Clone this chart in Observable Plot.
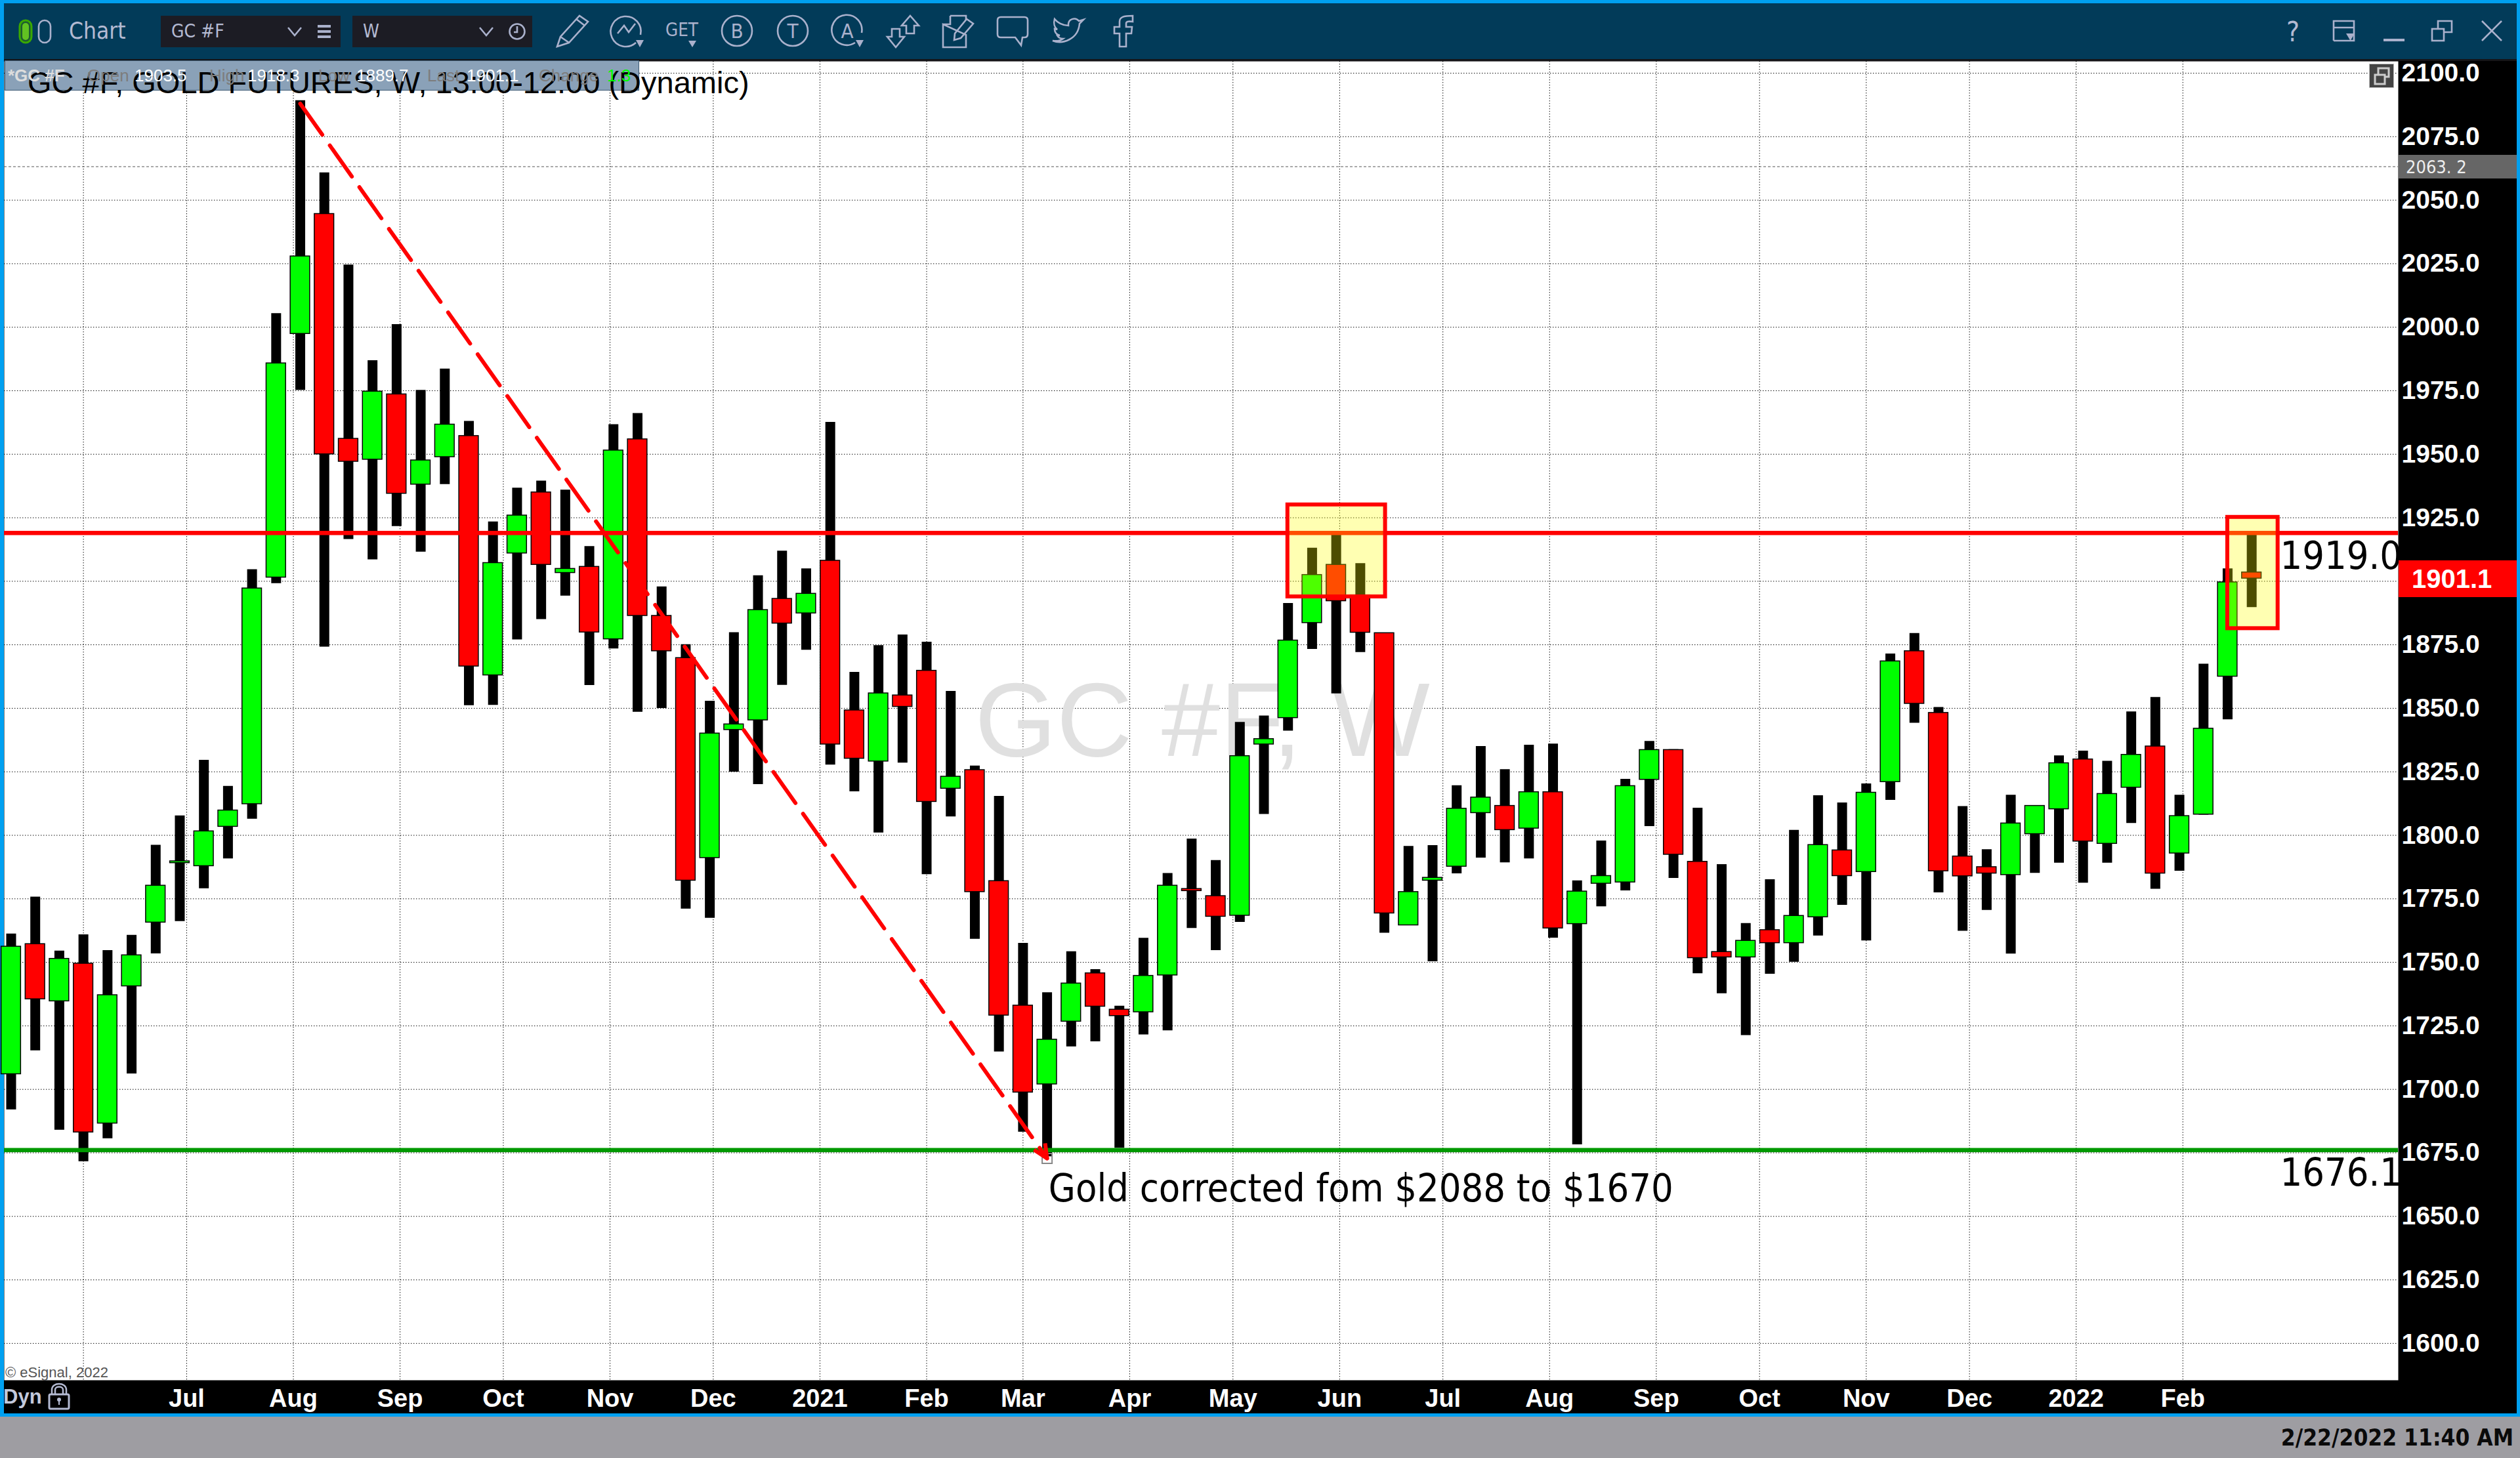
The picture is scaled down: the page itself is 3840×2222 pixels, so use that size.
<!DOCTYPE html>
<html><head><meta charset="utf-8">
<script src="https://cdn.jsdelivr.net/npm/d3@7"></script>
<script src="https://cdn.jsdelivr.net/npm/@observablehq/plot@0.6"></script>
<style>
html,body{margin:0;padding:0;background:#9e9ea2;}
#page{position:relative;width:3840px;height:2222px;overflow:hidden;background:#9e9da2;font-family:"Liberation Sans",Arial,sans-serif;}
.abs{position:absolute;}
#chart{position:absolute;left:0;top:0;z-index:2;}
#chart svg{display:block;background:transparent;}
.z3{z-index:3;} .z4{z-index:4;} .z5{z-index:5;}
.tb{color:#b4bad2;font-family:"DejaVu Sans Condensed","DejaVu Sans",sans-serif;white-space:nowrap;line-height:1;}
.lab{font-family:"DejaVu Sans Condensed","Liberation Sans",sans-serif;white-space:pre;line-height:1;}
svg.ic{position:absolute;overflow:visible;fill:none;stroke:#aab1cc;stroke-width:2.6;z-index:5;}
svg.ic text{stroke:none;fill:#aab1cc;font-family:"DejaVu Sans Condensed","DejaVu Sans",sans-serif;}
</style></head><body><div id="page">
<div class="abs" style="left:0;top:0;width:3840px;height:2159px;background:#00a0f0"></div>
<div class="abs" style="left:6px;top:5px;width:3829px;height:85px;background:#023b59"></div>
<div class="abs" style="left:6px;top:90px;width:3829px;height:3px;background:#151518"></div>
<div class="abs" style="left:6px;top:93px;width:3829px;height:2061px;background:#000"></div>
<div id="chart"></div>

<!-- toolbar -->
<svg class="ic" style="left:28px;top:29px" width="54" height="38" viewBox="0 0 54 38">
<rect x="2" y="2" width="18" height="34" rx="9" stroke="#3aa800" stroke-width="3" fill="#1e5c30"/>
<rect x="6" y="6" width="10" height="26" rx="5" stroke="none" fill="#62c222"/>
<rect x="31" y="2" width="18" height="34" rx="9"/></svg>
<div class="abs tb z5" style="left:105px;top:30px;font-size:35px;">Chart</div>
<div class="abs z5" style="left:245px;top:24px;width:274px;height:48px;background:#1c1c24"></div>
<div class="abs z5" style="left:537px;top:24px;width:274px;height:48px;background:#1c1c24"></div>
<div class="abs tb z5" style="left:261px;top:34px;font-size:28px;">GC #F</div>
<div class="abs tb z5" style="left:553px;top:34px;font-size:28px;">W</div>
<svg class="ic" style="left:437px;top:40px" width="26" height="18"><path d="M2 2 L12 14 L22 2"/></svg>
<svg class="ic" style="left:483px;top:37px" width="24" height="24"><path d="M1 3H21M1 11H21M1 19H21" stroke-width="4"/></svg>
<svg class="ic" style="left:729px;top:40px" width="26" height="18"><path d="M2 2 L12 14 L22 2"/></svg>
<svg class="ic" style="left:775px;top:34px" width="28" height="28"><circle cx="13" cy="14" r="11.5"/><path d="M13 6V15H8"/></svg>
<svg class="ic" style="left:848px;top:23px" width="50" height="50" viewBox="0 0 50 50"><path d="M1 48 L6 33 L35 1 L48 10 L19 42 Z M6 33 L19 42 M30 6 L43 16"/></svg>
<svg class="ic" style="left:931px;top:23px" width="50" height="50" viewBox="0 0 50 50"><path d="M38 42 A23 23 0 1 1 45 30"/><path d="M10 28 L20 16 L27 26 L37 13"/><path d="M38 38 L50 38 L44 49 Z" fill="#aab1cc" stroke="none"/></svg>
<svg class="ic" style="left:1014px;top:27px" width="52" height="46" viewBox="0 0 52 46"><text x="25" y="28" font-size="29" text-anchor="middle" textLength="50" lengthAdjust="spacingAndGlyphs">GET</text><path d="M35 35 L47 35 L41 45 Z" fill="#aab1cc" stroke="none"/></svg>
<svg class="ic" style="left:1099px;top:23px" width="50" height="50" viewBox="0 0 50 50"><circle cx="24" cy="24" r="23"/><text x="24" y="35" font-size="31" text-anchor="middle">B</text></svg>
<svg class="ic" style="left:1184px;top:23px" width="50" height="50" viewBox="0 0 50 50"><circle cx="24" cy="24" r="23"/><text x="24" y="35" font-size="31" text-anchor="middle">T</text></svg>
<svg class="ic" style="left:1267px;top:23px" width="50" height="50" viewBox="0 0 50 50"><path d="M36 42 A23 23 0 1 1 46 27"/><text x="24" y="35" font-size="31" text-anchor="middle">A</text><path d="M37 38 L49 38 L43 49 Z" fill="#aab1cc" stroke="none"/></svg>
<svg class="ic" style="left:1351px;top:23px" width="50" height="50" viewBox="0 0 50 50"><path d="M36 1 L49 16 L42 16 L42 28 L30 28 L30 16 L23 16 Z"/><path d="M14 49 L1 33 L8 33 L8 21 L20 21 L20 33 L27 33 Z"/></svg>
<svg class="ic" style="left:1436px;top:23px" width="50" height="50" viewBox="0 0 50 50"><path d="M12 1 H36 V8 M36 30 V49 H1 V14 Z M12 1 V14 H1"/><path d="M18 38 L19 28 L37 6 L47 13 L28 35 Z"/></svg>
<svg class="ic" style="left:1519px;top:25px" width="48" height="45" viewBox="0 0 48 45"><path d="M6 1 H42 Q47 1 47 6 V27 Q47 32 42 32 H39 L37 44 L28 32 H6 Q1 32 1 27 V6 Q1 1 6 1 Z"/></svg>
<svg class="ic" style="left:1603px;top:26px" width="50" height="42" viewBox="0 0 50 42"><path d="M1 36 C16 42 40 34 42 10 L48 4 L41 6 C36 0 24 2 25 13 C16 13 8 8 4 3 C2 10 4 16 8 19 L4 18 C4 24 8 27 12 28 L8 28 C10 32 14 33 17 33 C13 36 8 37 1 36 Z"/></svg>
<svg class="ic" style="left:1697px;top:23px" width="30" height="50" viewBox="0 0 30 50"><path d="M9 48 V28 H1 V18 H9 V10 C9 3 15 1 29 1 V10 C21 9 19 10 19 13 V18 H28 L27 28 H19 V48 Z"/></svg>
<div class="abs tb z5" style="left:3484px;top:28px;font-size:42px;">?</div>
<svg class="ic" style="left:3555px;top:30px" width="36" height="36" viewBox="0 0 36 36"><path d="M1 32 V2 H32 V32 H1 M1 12 H32"/><path d="M20 21 H33 L26.5 32 Z" fill="#aab1cc" stroke="none"/></svg>
<svg class="ic" style="left:3631px;top:58px" width="34" height="8"><path d="M1 3 H33" stroke-width="4"/></svg>
<svg class="ic" style="left:3704px;top:30px" width="36" height="36" viewBox="0 0 36 36"><rect x="2" y="14" width="18" height="18"/><path d="M11 14 V2 H32 V19 H20"/></svg>
<svg class="ic" style="left:3780px;top:30px" width="36" height="36" viewBox="0 0 36 36"><path d="M2 2 L32 32 M32 2 L2 32"/></svg>

<!-- header panel -->
<div class="abs z3" style="left:8px;top:93px;width:965px;height:44px;background:#8aa1b8;outline:1px solid #3d5a74"></div>
<div class="abs z4" id="title" style="left:42px;top:102px;font-family:'Liberation Sans',sans-serif;font-size:47px;line-height:1;color:#000;white-space:nowrap;">GC #F, GOLD FUTURES, W, 13:00-12:00 (Dynamic)</div>
<div class="abs z5" style="left:0;top:93px;width:1000px;height:44px;font-size:26px;line-height:44px;white-space:nowrap;">
<span class="abs" style="left:12px;color:#ddd;font-weight:bold">*GC #F</span>
<span class="abs" style="left:133px;color:#7d7d7d">Open</span><span class="abs" style="left:205px;color:#fff">1903.5</span>
<span class="abs" style="left:319px;color:#7d7d7d">High</span><span class="abs" style="left:377px;color:#fff">1918.3</span>
<span class="abs" style="left:485px;color:#7d7d7d">Low</span><span class="abs" style="left:543px;color:#fff">1889.7</span>
<span class="abs" style="left:651px;color:#7d7d7d">Last</span><span class="abs" style="left:711px;color:#fff">1901.1</span>
<span class="abs" style="left:821px;color:#7d7d7d">Change</span><span class="abs" style="left:925px;color:#00ff00">1.3</span>
</div>
<svg class="abs z5" style="left:3610px;top:97px" width="38" height="37" viewBox="0 0 38 37"><rect x="0" y="0" width="38" height="37" fill="#444" stroke="#bbb" stroke-width="2"/><rect x="9" y="17" width="15" height="14" fill="none" stroke="#ccc" stroke-width="3"/><path d="M14 16 V7 H30 V20 H25" fill="none" stroke="#ccc" stroke-width="3"/></svg>

<!-- price tags -->
<div class="abs z3" style="left:3655px;top:236px;width:180px;height:36px;background:#666;"></div>
<div class="abs z4 lab" style="left:3666px;top:241px;font-size:27px;color:#eee;">2063. 2</div>
<div class="abs z3" style="left:3655px;top:854px;width:180px;height:56px;background:#f00;"></div>
<div class="abs z4" style="left:3675px;top:862px;font-size:40px;line-height:40px;color:#fff;font-weight:bold;">1901.1</div>

<!-- bottom bits -->
<div class="abs z5" style="left:8px;top:2081px;font-size:22px;line-height:1;color:#555;white-space:nowrap;">© eSignal, 2022</div>
<div class="abs z5" style="left:5px;top:2113px;font-size:31px;line-height:1;color:#c3c9dc;font-weight:bold;">Dyn</div>
<svg class="abs z5" style="left:72px;top:2107px" width="36" height="42" viewBox="0 0 36 42"><path d="M7 18 V11 C7 -1 29 -1 29 11 V18 M12 18 V11 C12 5 24 5 24 11 V18" fill="none" stroke="#b4bad2" stroke-width="2.5"/><rect x="3" y="18" width="30" height="22" rx="2" fill="none" stroke="#b4bad2" stroke-width="3"/><circle cx="18" cy="26" r="3" fill="#b4bad2"/><path d="M18 26 V34" stroke="#b4bad2" stroke-width="2"/></svg>
<div class="abs z5" style="right:10px;top:2174px;font-family:'DejaVu Sans Condensed','DejaVu Sans';font-weight:bold;font-size:35px;line-height:1;color:#0a0a0a;white-space:nowrap;">2/22/2022 11:40 AM</div>

<script>
// weekly bars (Monday of each week)
const weeks = ["2020-05-11","2020-05-18","2020-05-25","2020-06-01","2020-06-08","2020-06-15","2020-06-22","2020-06-29","2020-07-06","2020-07-13","2020-07-20","2020-07-27","2020-08-03","2020-08-10","2020-08-17","2020-08-24","2020-08-31","2020-09-07","2020-09-14","2020-09-21","2020-09-28","2020-10-05","2020-10-12","2020-10-19","2020-10-26","2020-11-02","2020-11-09","2020-11-16","2020-11-23","2020-11-30","2020-12-07","2020-12-14","2020-12-21","2020-12-28","2021-01-04","2021-01-11","2021-01-18","2021-01-25","2021-02-01","2021-02-08","2021-02-15","2021-02-22","2021-03-01","2021-03-08","2021-03-15","2021-03-22","2021-03-29","2021-04-05","2021-04-12","2021-04-19","2021-04-26","2021-05-03","2021-05-10","2021-05-17","2021-05-24","2021-05-31","2021-06-07","2021-06-14","2021-06-21","2021-06-28","2021-07-05","2021-07-12","2021-07-19","2021-07-26","2021-08-02","2021-08-09","2021-08-16","2021-08-23","2021-08-30","2021-09-06","2021-09-13","2021-09-20","2021-09-27","2021-10-04","2021-10-11","2021-10-18","2021-10-25","2021-11-01","2021-11-08","2021-11-15","2021-11-22","2021-11-29","2021-12-06","2021-12-13","2021-12-20","2021-12-27","2022-01-03","2022-01-10","2022-01-17","2022-01-24","2022-01-31","2022-02-07","2022-02-14","2022-02-21"];
const opens = [1706,1757.2,1734.7,1749.5,1686.6,1740.6,1765.7,1789.1,1787.9,1803.4,1812.3,1901.5,1997.4,2044.6,1956.1,1947.9,1973.6,1938.1,1948.9,1957.2,1863,1911,1935,1903.3,1905.7,1877.2,1955.9,1886.4,1869.8,1791.1,1841.5,1845.3,1893.1,1887.4,1908.1,1849.2,1829.1,1855.1,1864.8,1818.4,1825.7,1782,1733,1702,1726.7,1745.7,1731.4,1730.4,1744.9,1778.9,1776.1,1768.4,1835.8,1846.2,1883.6,1906.5,1894.5,1879.6,1764.6,1782.2,1787.7,1808.8,1811.6,1802.7,1817,1765.1,1781,1781.5,1821.9,1833.6,1789.6,1754.1,1752,1762.7,1757.6,1767.8,1794.1,1785.6,1821,1872.5,1848.2,1791.7,1787.5,1784.4,1800.5,1810.3,1829.9,1796.7,1818.8,1835,1792.9,1808.2,1862.5,1903.5];
const highs = [1761.2,1775.7,1754.5,1760.9,1754.7,1760.7,1796.1,1807.7,1829.6,1819.3,1904.6,2005.4,2089.2,2060.8,2024.5,1986.9,2001.1,1975.2,1983.6,1963,1923.4,1936.7,1939.5,1935.9,1913.7,1961.7,1966.1,1897.8,1875.1,1852.8,1879.8,1902.2,1911.9,1904.9,1962.6,1864.2,1874.7,1878.9,1876.1,1856.7,1827.3,1815.4,1757.5,1738.1,1754.2,1747.2,1732.8,1759.5,1785,1798.6,1790.1,1844.5,1847,1891.3,1913.1,1918.5,1907,1879.6,1795.7,1796,1819.6,1835,1825.9,1835.5,1836,1782.1,1797.8,1822.1,1837,1833.8,1810.7,1788.5,1765.3,1782.6,1802,1815.6,1812.8,1820.3,1871.4,1879.5,1850.4,1811.4,1794.4,1815.8,1811.6,1831.3,1833.2,1829.2,1848.6,1854.3,1815.8,1867.4,1904.9,1918.3];
const lows = [1692,1715.2,1684,1671.6,1680.6,1706.1,1753.4,1766.1,1779,1790.8,1806.4,1899.1,1975.2,1874.1,1916.5,1908.5,1921.6,1911.5,1938.1,1851.1,1851.2,1877,1885,1894.2,1859,1873.4,1848.5,1850,1771,1767.4,1824.9,1820,1859.1,1872.9,1827.7,1817.2,1801,1828.5,1784.6,1807.3,1759.1,1714.8,1683.2,1673.5,1716.8,1718.8,1676.9,1721.5,1723.1,1763.4,1754.7,1765.8,1808.3,1841.1,1873.2,1855.7,1872,1761.5,1764.6,1750.3,1784.9,1791.1,1789.2,1790.8,1759.6,1678.2,1771.9,1778.2,1803.5,1783.1,1745.6,1737.7,1721.2,1745.4,1750.1,1760.4,1772.5,1758.5,1813.8,1844.2,1777.4,1762.3,1770.5,1753.3,1785.1,1789.1,1781.2,1789.1,1804.7,1778.8,1785.9,1808,1845.5,1889.7];
const closes = [1756.2,1735.5,1751.4,1683.1,1737.1,1752.8,1780.2,1789.8,1801.6,1809.8,1897.2,1985.8,2027.9,1950,1947.1,1974.7,1934.5,1947.6,1961.7,1866.5,1907.2,1925.9,1906.5,1904.9,1879.9,1951.5,1886.4,1872.5,1782.2,1840.1,1843.7,1888.7,1883.4,1895.1,1835.8,1830.2,1855.9,1850.6,1813.2,1823.1,1777.7,1729.1,1698.8,1719.6,1741.7,1732.6,1728.9,1744.7,1780.2,1778.1,1768,1831.2,1837.9,1876.7,1902.5,1892.2,1879.8,1769.3,1777.7,1783.3,1810.5,1814.9,1802.1,1817,1763.4,1777.9,1784,1819.4,1833.6,1792.4,1751.7,1752,1758.5,1757.6,1768.3,1796.2,1784,1816.8,1868.5,1851.8,1785.9,1783.9,1785,1804.7,1811.6,1828.4,1797.6,1816.3,1831.7,1785,1807.6,1842,1899.6,1901.1];

const tickDates = ["2020-06-01","2020-07-01","2020-08-01","2020-09-01","2020-10-01","2020-11-01","2020-12-01","2021-01-01","2021-02-01","2021-03-01","2021-04-01","2021-05-01","2021-06-01","2021-07-01","2021-08-01","2021-09-01","2021-10-01","2021-11-01","2021-12-01","2022-01-01","2022-02-01"];
const tickLabels = ["","Jul","Aug","Sep","Oct","Nov","Dec","2021","Feb","Mar","Apr","May","Jun","Jul","Aug","Sep","Oct","Nov","Dec","2022","Feb"];
const priceTicks = d3.range(1600, 2101, 25);

const resistance = 1919.0, support = 1676.1, prevHigh = 2063.2;
const trendDates = ["2020-08-03","2021-03-08"], trendValues = [2088, 1672.8];
const barbDates = ["2021-03-07T10:00Z","2021-03-04T05:00Z"], barbValues = [1678.8,1676.2];
const boxDates1 = ["2021-05-16T22:00Z","2021-06-14T07:00Z"], boxValues1 = [1893.9,1930.1];
const boxDates2 = ["2022-02-14T00:00Z","2022-02-28T15:00Z"], boxValues2 = [1881.4,1925.2];
const xDomain = ["2020-05-09","2022-04-04T14:00Z"], yDomain = [1585.5,2104.65];

const D = s => new Date(s);
const candles = weeks.map((w,i)=>({date:D(w),open:opens[i],high:highs[i],low:lows[i],close:closes[i],
  top:Math.max(opens[i],closes[i]),bottom:Math.min(opens[i],closes[i])}));
const grid = tickDates.map(D);
const halfBody = d => d3.utcHour.offset(d.date,-68), halfBody2 = d => d3.utcHour.offset(d.date,68);
const labelFont = "'DejaVu Sans Condensed'";

const chart = Plot.plot({
  width:3840, height:2222,
  marginTop:93, marginBottom:119, marginLeft:6, marginRight:186,
  style:{background:"transparent",fontFamily:"'Liberation Sans',Arial,sans-serif",overflow:"visible"},
  x:{type:"utc",domain:xDomain.map(D)},
  y:{type:"linear",domain:yDomain},
  marks:[
    Plot.frame({fill:"white",stroke:"none"}),
    Plot.ruleY(priceTicks,{stroke:"#000",strokeWidth:1,strokeDasharray:"1.4,2.6"}),
    Plot.ruleX(grid,{stroke:"#000",strokeWidth:1,strokeDasharray:"1.4,2.6"}),
    Plot.ruleY([prevHigh],{stroke:"#555",strokeWidth:1,strokeDasharray:"4,3"}),
    Plot.text(["GC #F, W"],{x:[D("2021-02-15")],y:[1844.6],text:d=>d,fontSize:160,fill:"#e0e0e0",textAnchor:"start",lineAnchor:"middle",fontFamily:"'Liberation Sans'"}),
    Plot.ruleX(candles,{x:"date",y1:"low",y2:"high",stroke:"#000",strokeWidth:15}),
    Plot.rect(candles,{x1:halfBody,x2:halfBody2,y1:"bottom",y2:"top",fill:d=>d.close>=d.open?"#00ff00":"#ff0000",stroke:"#000",strokeWidth:1.5}),
    Plot.ruleY([resistance],{stroke:"#ff0000",strokeWidth:6.5}),
    Plot.ruleY([support],{stroke:"#009900",strokeWidth:6.5}),
    Plot.dot([0],{x:[D(trendDates[1])],y:[trendValues[1]],symbol:"square",r:8.5,fill:"none",stroke:"#888",strokeWidth:2}),
    Plot.line(trendDates.map((d,i)=>({d:D(d),v:trendValues[i]})),{x:"d",y:"v",stroke:"#ff0000",strokeWidth:6,strokeDasharray:"58,20"}),
    Plot.link(barbDates.map((d,i)=>({d:D(d),v:barbValues[i]})),{x1:"d",y1:"v",x2:()=>D(trendDates[1]),y2:()=>trendValues[1],stroke:"#ff0000",strokeWidth:6}),
    Plot.rect([0],{x1:[D(boxDates1[0])],x2:[D(boxDates1[1])],y1:[boxValues1[0]],y2:[boxValues1[1]],fill:"#ffff00",fillOpacity:0.3,stroke:"#ff0000",strokeWidth:6}),
    Plot.rect([0],{x1:[D(boxDates2[0])],x2:[D(boxDates2[1])],y1:[boxValues2[0]],y2:[boxValues2[1]],fill:"#ffff00",fillOpacity:0.3,stroke:"#ff0000",strokeWidth:6}),
    Plot.text(["1919.0"],{x:[D("2022-03-01T06:00Z")],y:[1909.7],text:d=>d,fontSize:59,fill:"#000",textAnchor:"start",lineAnchor:"middle",fontFamily:labelFont}),
    Plot.text(["1676.1"],{x:[D("2022-03-01T06:00Z")],y:[1666.9],text:d=>d,fontSize:59,fill:"#000",textAnchor:"start",lineAnchor:"middle",fontFamily:labelFont}),
    Plot.text(["Gold corrected fom $2088 to $1670"],{x:[D("2021-03-08T10:00Z")],y:[1660.7],text:d=>d,fontSize:59,fill:"#000",textAnchor:"start",lineAnchor:"middle",fontFamily:labelFont}),
    Plot.axisY(priceTicks,{anchor:"right",tickSize:0,tickPadding:5,fontSize:39,fontWeight:"bold",fill:"#fff",tickFormat:d=>d.toFixed(1),label:null}),
    Plot.axisX(grid,{anchor:"bottom",tickSize:0,tickPadding:14,fontSize:38,fontWeight:"bold",fill:"#fff",tickFormat:d=>tickLabels[tickDates.findIndex(t=>+D(t)===+d)],label:null})
  ]
});
document.getElementById("chart").appendChild(chart);
</script>
</div></body></html>
